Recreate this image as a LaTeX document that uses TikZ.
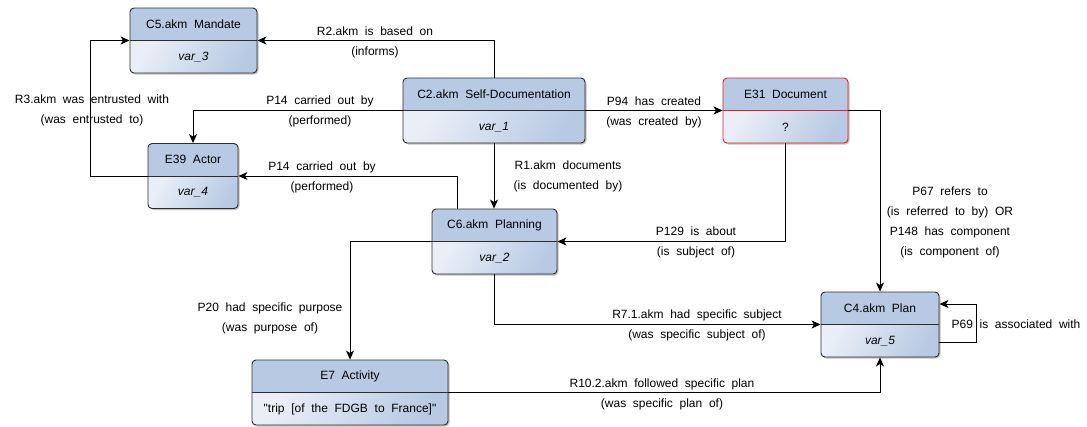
\documentclass[tikz,border=0pt]{standalone}
\usepackage{fontspec}
\setmainfont{Liberation Sans}[WordSpace=2.0]
\newfontfamily\plainqfont{Liberation Sans}[WordSpace=2.0]
\usetikzlibrary{arrows.meta,calc,shadows}
\definecolor{hdr}{RGB}{183,201,227}
\definecolor{lt}{RGB}{234,239,247}
\definecolor{brd}{RGB}{45,45,45}
\definecolor{redb}{RGB}{235,30,30}
\tikzset{
  umlbox/.style={draw=#1, line width=0.9pt, rounded corners=4pt, inner sep=0pt,
    minimum height=65pt,
    drop shadow={shadow xshift=1.5pt,shadow yshift=-1.5pt,opacity=0.25,fill=black},
    path picture={
      \fill[hdr,sharp corners] (path picture bounding box.north west) rectangle (path picture bounding box.east);
      \shade[left color=lt,right color=hdr,shading angle=60,sharp corners] (path picture bounding box.west) rectangle (path picture bounding box.south east);
      \draw[#1,line width=0.9pt] (path picture bounding box.west) -- (path picture bounding box.east);}},
  umlbox/.default=brd,
  txt/.style={font=\fontsize{12}{20}\selectfont, inner sep=0pt, align=center},
  elabel/.style={txt},
  conn/.style={draw=black, line width=0.9pt, -{Stealth[length=9pt,width=8pt,inset=2.5pt]}},
}
\newcommand\umlnode[8][brd]{%
  \node[umlbox=#1, minimum width=#5] (#2) at (#3,#4) {};
  \node[txt] (#2-t) at ($(#2.center)+(0,-16.5)$) {#6};
  \node[txt] (#2-b) at ($(#2.center)+(0,16.5)$) {#7#8};
}
\begin{document}
\begin{tikzpicture}[x=1pt,y=-1pt]
\useasboundingbox (0,0) rectangle (1087,426);

% nodes
\umlnode{c5}{193.5}{40.5}{127pt}{C5.akm Mandate}{\itshape}{var\_3}
\umlnode{e39}{193}{176}{90pt}{E39 Actor}{\itshape}{var\_4}
\umlnode{c2}{494}{110.5}{182pt}{C2.akm Self-Documentation}{\itshape}{var\_1}
\umlnode[redb]{e31}{785.5}{110.5}{125pt}{E31 Document}{}{?}
\umlnode{c6}{494.5}{241.5}{125pt}{C6.akm Planning}{\itshape}{var\_2}
\umlnode{c4}{880}{324.5}{118pt}{C4.akm Plan}{\itshape}{var\_5}
\umlnode{e7}{350}{392.5}{196pt}{E7 Activity}{\plainqfont}{"trip [of the FDGB to France]"}

% helper coordinates
\coordinate (r3x) at (90,0);
\coordinate (c6up) at ($(c6.north)+(-37.5,0)$);
\coordinate (loopA) at ($(c4.east)+(0,17.5)$);
\coordinate (loopB) at ($(c4.east)+(37,17.5)$);
\coordinate (loopC) at ($(c4.east)+(37,-20.5)$);
\coordinate (loopD) at ($(c4.east)+(0,-20.5)$);

% connectors
\draw[conn] (c2.north) -- (c2.north |- c5.east) -- (c5.east);
\draw[conn] (c2.west) -- (e39.north |- c2.west) -- (e39.north);
\draw[conn] (c2.east) -- (e31.west);
\draw[conn] (c2.south) -- (c2.south |- c6.north);
\draw[conn] (c6up) -- (c6up |- e39.east) -- (e39.east);
\draw[conn] (e39.west) -- (r3x |- e39.west) -- (r3x |- c5.west) -- (c5.west);
\draw[conn] (e31.south) -- (e31.south |- c6.east) -- (c6.east);
\draw[conn] (e31.east) -- (c4.north |- e31.east) -- (c4.north);
\draw[conn] (c6.west) -- (e7.north |- c6.west) -- (e7.north);
\draw[conn] (c6.south) -- (c6.south |- c4.west) -- (c4.west);
\draw[conn] (e7.east) -- (c4.south |- e7.east) -- (c4.south);
\draw[conn] (loopA) -- (loopB) -- (loopC) -- (loopD);

% labels
\node[elabel] (l1) at (375,42) {R2.akm is based on\\(informs)};
\node[elabel] (l2) at (320,111) {P14 carried out by\\(performed)};
\node[elabel] (l3) at (322,177) {P14 carried out by\\(performed)};
\node[elabel] (l4) at (92,110) {R3.akm was entrusted with\\(was entrusted to)};
\node[elabel] (l5) at (654,112) {P94 has created\\(was created by)};
\node[elabel] (l6) at (568,176) {R1.akm documents\\(is documented by)};
\node[elabel] (l7) at (696,242) {P129 is about\\(is subject of)};
\node[elabel] (l8) at (950,222) {P67 refers to\\(is referred to by) OR\\P148 has component\\(is component of)};
\node[elabel] (l9) at (270,318) {P20 had specific purpose\\(was purpose of)};
\node[elabel] (l10) at (697,325) {R7.1.akm had specific subject\\(was specific subject of)};
\node[elabel] (l11) at (662,394) {R10.2.akm followed specific plan\\(was specific plan of)};
\node[elabel] (l12) at (1016,324) {P69 is associated with};
\end{tikzpicture}
\end{document}
